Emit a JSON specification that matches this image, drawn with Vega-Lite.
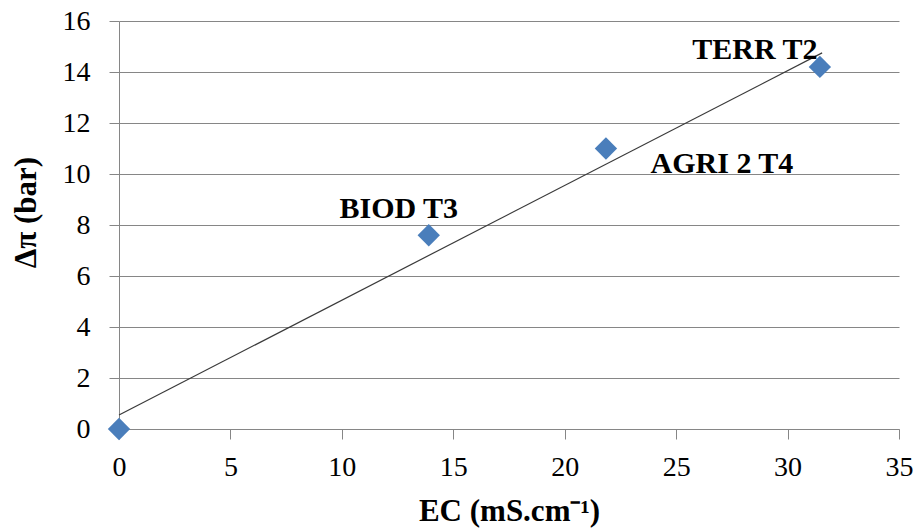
{
  "$schema": "https://vega.github.io/schema/vega-lite/v6.json",
  "width": 780,
  "height": 408,
  "autosize": {"type": "none"},
  "padding": {"left": 119, "top": 21, "right": 15, "bottom": 99},
  "background": "white",
  "config": {
    "view": {"stroke": null},
    "font": "Liberation Serif"
  },
  "datasets": {
    "points": [
      {"EC": 0, "dpi": 0, "name": ""},
      {"EC": 13.9, "dpi": 7.6, "name": "BIOD T3"},
      {"EC": 21.85, "dpi": 11.0, "name": "AGRI 2 T4"},
      {"EC": 31.45, "dpi": 14.2, "name": "TERR T2"}
    ],
    "trend": [
      {"EC": 0, "dpi": 0.55},
      {"EC": 31.55, "dpi": 14.75}
    ]
  },
  "layer": [
    {
      "data": {"name": "trend"},
      "mark": {"type": "line", "color": "#3a3a3a", "strokeWidth": 1.2},
      "encoding": {
        "x": {
          "field": "EC", "type": "quantitative",
          "scale": {"domain": [0, 35], "nice": false, "zero": true},
          "axis": {
            "title": "EC (mS.cm⁻¹)",
            "values": [0, 5, 10, 15, 20, 25, 30, 35],
            "grid": false,
            "domainColor": "#868686",
            "tickColor": "#868686",
            "tickSize": 10,
            "labelFont": "Liberation Serif",
            "labelFontSize": 28,
            "labelColor": "#000000",
            "labelPadding": 14,
            "labelFlush": false,
            "titleFont": "Liberation Serif",
            "titleFontSize": 31,
            "titleFontWeight": "bold",
            "titleColor": "#000000",
            "titlePadding": 15
          }
        },
        "y": {
          "field": "dpi", "type": "quantitative",
          "scale": {"domain": [0, 16], "nice": false},
          "axis": {
            "title": "Δπ (bar)",
            "values": [0, 2, 4, 6, 8, 10, 12, 14, 16],
            "grid": true,
            "gridColor": "#868686",
            "gridWidth": 1,
            "domainColor": "#868686",
            "tickColor": "#868686",
            "tickSize": 10,
            "labelFont": "Liberation Serif",
            "labelFontSize": 28,
            "labelColor": "#000000",
            "labelPadding": 19,
            "labelFlush": false,
            "titleFont": "Liberation Serif",
            "titleFontSize": 31,
            "titleFontWeight": "bold",
            "titleColor": "#000000",
            "titleAngle": -90,
            "titleAlign": "center",
            "titleBaseline": "middle",
            "titleX": -93,
            "titleY": 191
          }
        }
      }
    },
    {
      "data": {"name": "points"},
      "mark": {"type": "point", "shape": "diamond", "filled": true, "size": 500, "color": "#4a7ebb", "opacity": 1},
      "encoding": {
        "x": {"field": "EC", "type": "quantitative"},
        "y": {"field": "dpi", "type": "quantitative"}
      }
    },
    {
      "data": {"name": "points"},
      "transform": [{"filter": "datum.name == 'BIOD T3'"}],
      "mark": {"type": "text", "font": "Liberation Serif", "fontSize": 30, "fontWeight": "bold", "color": "#000000", "align": "center", "baseline": "middle", "dx": -30, "dy": -26},
      "encoding": {
        "x": {"field": "EC", "type": "quantitative"},
        "y": {"field": "dpi", "type": "quantitative"},
        "text": {"field": "name"}
      }
    },
    {
      "data": {"name": "points"},
      "transform": [{"filter": "datum.name == 'AGRI 2 T4'"}],
      "mark": {"type": "text", "font": "Liberation Serif", "fontSize": 30, "fontWeight": "bold", "color": "#000000", "align": "center", "baseline": "middle", "dx": 116, "dy": 15},
      "encoding": {
        "x": {"field": "EC", "type": "quantitative"},
        "y": {"field": "dpi", "type": "quantitative"},
        "text": {"field": "name"}
      }
    },
    {
      "data": {"name": "points"},
      "transform": [{"filter": "datum.name == 'TERR T2'"}],
      "mark": {"type": "text", "font": "Liberation Serif", "fontSize": 30, "fontWeight": "bold", "color": "#000000", "align": "center", "baseline": "middle", "dx": -65, "dy": -17},
      "encoding": {
        "x": {"field": "EC", "type": "quantitative"},
        "y": {"field": "dpi", "type": "quantitative"},
        "text": {"field": "name"}
      }
    }
  ]
}
